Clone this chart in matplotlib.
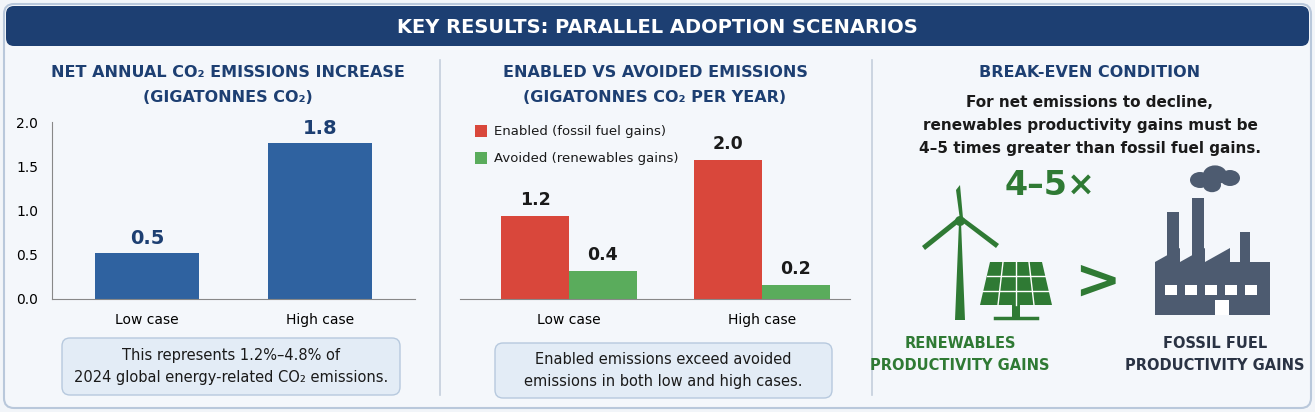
import numpy as np
import matplotlib.pyplot as plt
from matplotlib.patches import FancyBboxPatch, Rectangle, Polygon, Circle, Ellipse

cases = ["Low case", "High case"]
net_increase = [0.52, 1.76]
net_labels = ["0.5", "1.8"]
enabled = [1.2, 2.0]
avoided = [0.4, 0.2]
y_ticks = [0.0, 0.5, 1.0, 1.5, 2.0]

NAVY = "#1d3f72"
BLUE = "#2f62a0"
RED = "#d9473b"
GREEN = "#5aac5c"
DGREEN = "#2f7a34"
SLATE = "#4d5b70"
W, H = 1315, 412

fig = plt.figure(figsize=(W / 100, H / 100), dpi=100)
fig.patch.set_facecolor("#f2f5f9")

# overlay in pixel coordinates for decorations
ov = fig.add_axes([0, 0, 1, 1])
ov.set_xlim(0, W)
ov.set_ylim(H, 0)
ov.axis("off")
ov.add_patch(FancyBboxPatch((4, 4), W - 8, H - 8, boxstyle="round,pad=0,rounding_size=10",
                            fc="#f4f7fb", ec="#b9c8db", lw=1.5))
ov.add_patch(FancyBboxPatch((6, 6), W - 12, 40, boxstyle="round,pad=0,rounding_size=8",
                            fc=NAVY, ec="none"))
ov.text(W / 2, 27, "KEY RESULTS: PARALLEL ADOPTION SCENARIOS", color="white",
        fontsize=14, fontweight="bold", ha="center", va="center")
for x in (440, 872):
    ov.plot([x, x], [60, 395], color="#c4cfdc", lw=1.2)

def title(x, lines, y0=72):
    for i, t in enumerate(lines):
        ov.text(x, y0 + 25 * i, t, color=NAVY, fontsize=11.5, fontweight="bold",
                ha="center", va="center")

title(228, ["NET ANNUAL CO₂ EMISSIONS INCREASE", "(GIGATONNES CO₂)"])
title(655, ["ENABLED VS AVOIDED EMISSIONS", "(GIGATONNES CO₂ PER YEAR)"])
title(1090, ["BREAK-EVEN CONDITION"])
for i, t in enumerate(["For net emissions to decline,",
                       "renewables productivity gains must be",
                       "4–5 times greater than fossil fuel gains."]):
    ov.text(1090, 102 + 23 * i, t, color="#1a1a1a", fontsize=11, fontweight="bold",
            ha="center", va="center")

def caption(x0, y0, w, h, lines):
    ov.add_patch(FancyBboxPatch((x0, y0), w, h, boxstyle="round,pad=0,rounding_size=8",
                                fc="#e3ecf6", ec="#b7c9de", lw=1))
    for i, t in enumerate(lines):
        ov.text(x0 + w / 2, y0 + h / 2 + (i - (len(lines) - 1) / 2) * 22, t,
                fontsize=10.5, ha="center", va="center", color="#1a1a1a")

caption(62, 338, 338, 57, ["This represents 1.2%–4.8% of",
                           "2024 global energy-related CO₂ emissions."])
caption(495, 343, 337, 55, ["Enabled emissions exceed avoided",
                            "emissions in both low and high cases."])

# panel 1
ax1 = fig.add_axes([52 / W, 1 - 299 / H, 363 / W, 177 / H])
x = np.arange(len(cases))
ax1.bar(x, net_increase, width=0.6, color=BLUE)
for xi, v, lab in zip(x, net_increase, net_labels):
    ax1.text(xi, v + 0.06, lab, ha="center", va="bottom", fontsize=14,
             fontweight="bold", color=NAVY)
ax1.set_xlim(-0.55, 1.55)
ax1.set_ylim(0, 2.0)
ax1.set_yticks(y_ticks)
ax1.set_xticks(x, cases)
ax1.tick_params(labelsize=10, length=0, pad=10)
ax1.set_facecolor("none")
for s in ("top", "right"):
    ax1.spines[s].set_visible(False)
for s in ("left", "bottom"):
    ax1.spines[s].set_color("#888888")

# panel 2
ax2 = fig.add_axes([460 / W, 1 - 299 / H, 390 / W, 153 / H])
bw = 0.35
ax2.bar(x - bw / 2, enabled, width=bw, color=RED)
ax2.bar(x + bw / 2, avoided, width=bw, color=GREEN)
for xi, e, a in zip(x, enabled, avoided):
    ax2.text(xi - bw / 2, e + 0.1, f"{e:.1f}", ha="center", va="bottom", fontsize=12.5,
             fontweight="bold", color="#1a1a1a")
    ax2.text(xi + bw / 2, a + 0.1, f"{a:.1f}", ha="center", va="bottom", fontsize=12.5,
             fontweight="bold", color="#1a1a1a")
ax2.set_xlim(-0.565, 1.456)
ax2.set_ylim(0, 2.2)
ax2.set_yticks([])
ax2.set_xticks(x, cases)
ax2.tick_params(labelsize=10, length=0, pad=10)
ax2.set_facecolor("none")
for s in ("top", "right", "left"):
    ax2.spines[s].set_visible(False)
ax2.spines["bottom"].set_color("#888888")

for i, (c, t) in enumerate([(RED, "Enabled (fossil fuel gains)"),
                            (GREEN, "Avoided (renewables gains)")]):
    y = 131 + 27 * i
    ov.add_patch(Rectangle((475, y - 6), 12, 12, fc=c, ec="none"))
    ov.text(494, y, t, fontsize=9.5, va="center", color="#1a1a1a")

# panel 3 visuals
ov.text(1050, 185, "4–5×", fontsize=24, fontweight="bold", color=DGREEN,
        ha="center", va="center")
ov.text(1097, 283, ">", fontsize=40, fontweight="bold", color=DGREEN,
        ha="center", va="center")
# wind turbine
ov.add_patch(Polygon([[955, 320], [965, 320], [961, 222], [959, 222]], fc=DGREEN))
ov.add_patch(Polygon([[960, 220], [956, 190], [960, 185], [963, 218]], fc=DGREEN))
ov.add_patch(Polygon([[960, 222], [925, 250], [922, 246], [957, 218]], fc=DGREEN))
ov.add_patch(Polygon([[962, 222], [996, 248], [999, 244], [964, 218]], fc=DGREEN))
ov.add_patch(Circle((960, 221), 5, fc=DGREEN))
# solar panel
ov.add_patch(Polygon([[990, 262], [1042, 262], [1052, 305], [980, 305]], fc=DGREEN))
for k in range(1, 4):
    t = k / 4
    ov.plot([990 + t * 52, 980 + t * 72], [262, 305], color="white", lw=1)
for k in (1, 2):
    yy = 262 + 43 * k / 3
    ov.plot([990 - 10 * k / 3, 1042 + 10 * k / 3], [yy, yy], color="white", lw=1)
ov.add_patch(Rectangle((1012, 305), 8, 12, fc=DGREEN))
ov.plot([995, 1037], [318, 318], color=DGREEN, lw=2.5)
# factory
ov.add_patch(Polygon([[1155, 315], [1155, 262], [1180, 248], [1180, 262], [1205, 248],
                      [1205, 262], [1230, 248], [1230, 262], [1270, 262], [1270, 315]], fc=SLATE))
ov.add_patch(Rectangle((1167, 212), 12, 52, fc=SLATE))
ov.add_patch(Rectangle((1192, 198), 12, 64, fc=SLATE))
ov.add_patch(Rectangle((1240, 232), 10, 30, fc=SLATE))
for cx, cy, r in [(1200, 180, 10), (1215, 175, 12), (1230, 178, 10), (1212, 185, 9)]:
    ov.add_patch(Ellipse((cx, cy), 2 * r, 1.6 * r, fc=SLATE))
for k in range(5):
    ov.add_patch(Rectangle((1165 + 20 * k, 285), 12, 10, fc="white"))
ov.add_patch(Rectangle((1215, 300), 14, 15, fc="white"))

for xc, lines, col in [(960, ["RENEWABLES", "PRODUCTIVITY GAINS"], DGREEN),
                       (1215, ["FOSSIL FUEL", "PRODUCTIVITY GAINS"], "#2a3344")]:
    for i, t in enumerate(lines):
        ov.text(xc, 343 + 22 * i, t, fontsize=10.5, fontweight="bold",
                color=col, ha="center", va="center")

fig.savefig("out.png", dpi=100, facecolor=fig.get_facecolor())
